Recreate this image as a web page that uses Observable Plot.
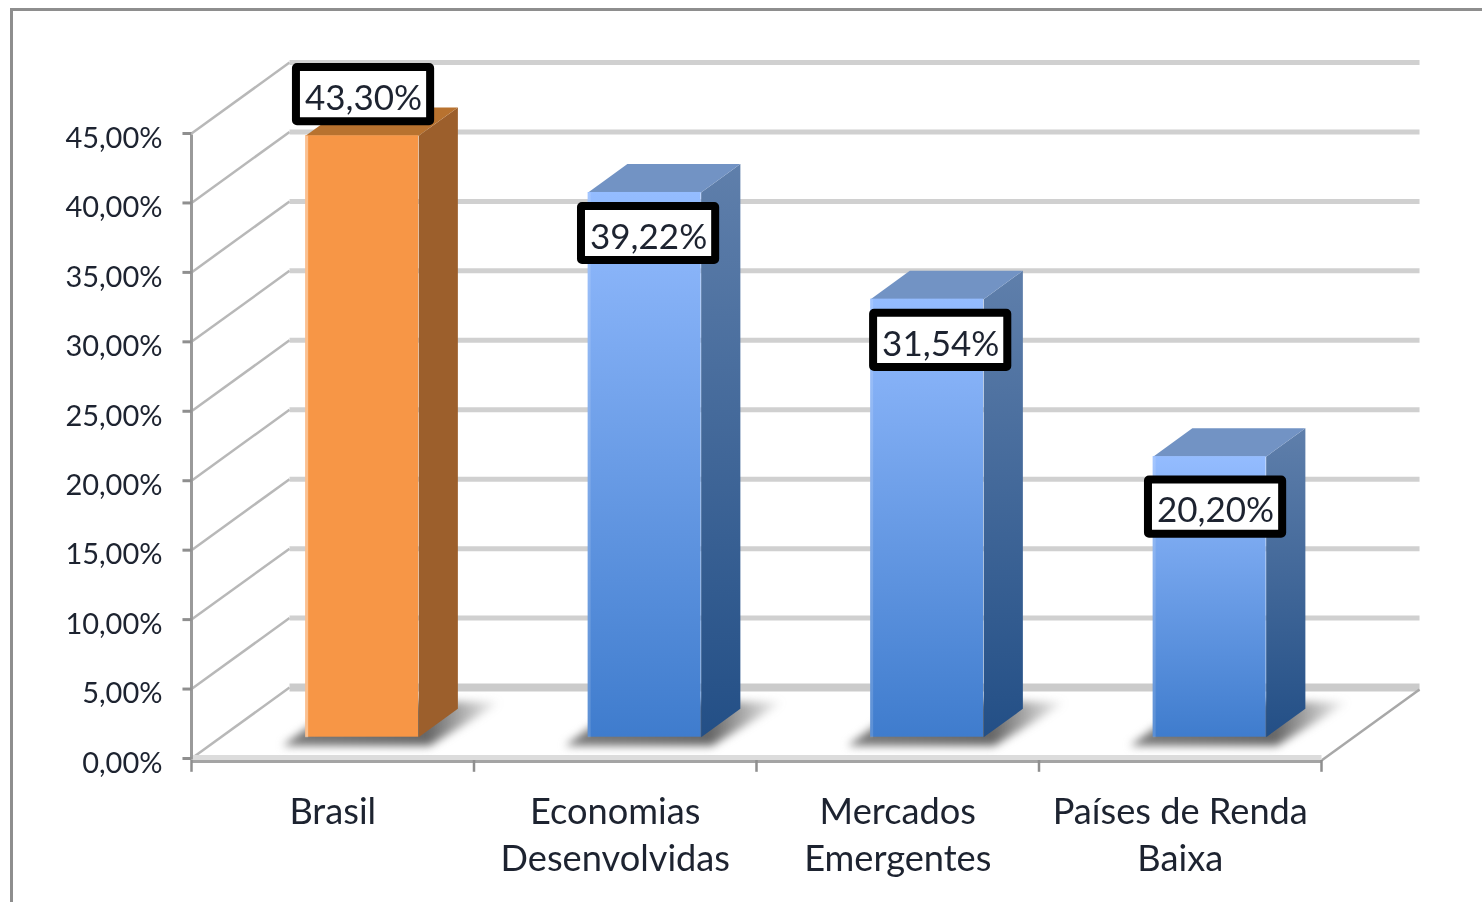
<!DOCTYPE html>
<html lang="pt">
<head>
<meta charset="utf-8">
<title>Gráfico de barras 3D</title>
<script src="https://cdn.jsdelivr.net/npm/d3@7"></script>
<script src="https://cdn.jsdelivr.net/npm/@observablehq/plot@0.6"></script>
<style>
  html, body { margin: 0; padding: 0; background: #fff; width: 1482px; height: 902px; overflow: hidden; }
  #frame { position: absolute; left: 10px; top: 8px; width: 1600px; height: 1100px; border: 3px solid #8e8e8e; box-sizing: border-box; }
  #chart { position: absolute; left: 0; top: 0; }
  #chart svg { filter: blur(0.6px); }
</style>
</head>
<body>
<div id="frame"></div>
<div id="chart"></div>
<script>
// Data
const categories = ["Brasil", "Economias\nDesenvolvidas", "Mercados\nEmergentes", "Países de Renda\nBaixa"];
const values = [43.30, 39.22, 31.54, 20.20];
const valueTicks = [0, 5, 10, 15, 20, 25, 30, 35, 40, 45];
const categoryEdges = [0, 1, 2, 3, 4];
const pct = (v) => v.toFixed(2).replace(".", ",") + "%";

// Oblique projection of the 3D box into the two scales
const depthX = 0.347;      // category units for full depth
const depthY = 5.11;       // percent units for full depth
const px = (x, d) => x + d * depthX;
const py = (v, d) => v + d * depthY;
const barL = 0.3, barR = 0.7, barD0 = 0.3, barD1 = 0.7;

const bars = values.map((v, i) => ({ i, v, kind: i === 0 ? "o" : "b" }));
const polygon = (id, corners) => corners.map(([x, v, d]) => ({ id, x: px(x, d), y: py(v, d) }));

const shadows = bars.flatMap(({ i }) => polygon(i, [
  [i + 0.26, 0, 0.18], [i + 0.78, 0, 0.18], [i + 0.82, 0, 0.8], [i + 0.26, 0, 0.8]
]));
const sideFace = (b) => polygon(b.i, [
  [b.i + barR, 0, barD0], [b.i + barR, 0, barD1], [b.i + barR, b.v, barD1], [b.i + barR, b.v, barD0]
]);
const topFace = (b) => polygon(b.i, [
  [b.i + barL, b.v, barD0], [b.i + barR, b.v, barD0], [b.i + barR, b.v, barD1], [b.i + barL, b.v, barD1]
]);
const polyMark = (data, fill, extra = {}) => Plot.line(data, { x: "x", y: "y", z: "id", fill, stroke: "none", curve: "linear-closed", ...extra });

// Label box centres (category units, percent units)
const labelCentres = [[0.609, 47.8], [1.618, 37.8], [2.652, 30.1], [3.625, 18.1]];
const boxW = 0.2375, boxH = 1.95;
const labels = values.map((v, i) => ({ text: pct(v), x: labelCentres[i][0], y: labelCentres[i][1] }));

const defs = () => {
  const d = d3.create("svg:defs");
  d.html(`
    <linearGradient id="blueFront" x1="0" y1="0" x2="0" y2="1">
      <stop offset="0" stop-color="#94bcff"/><stop offset="1" stop-color="#3f7ccd"/>
    </linearGradient>
    <linearGradient id="blueSide" x1="0" y1="0" x2="0" y2="1">
      <stop offset="0" stop-color="#5f7fab"/><stop offset="1" stop-color="#234f86"/>
    </linearGradient>
    <linearGradient id="floorShadow" x1="0" y1="0" x2="1" y2="0">
      <stop offset="0" stop-color="#7a7a7a"/><stop offset="0.66" stop-color="#666"/><stop offset="1" stop-color="#666" stop-opacity="0"/>
    </linearGradient>`);
  return d.node();
};

const textColor = "#1d2330";
const font = "Lato, Carlito, sans-serif";

const chart = Plot.plot({
  width: 1482,
  height: 902,
  marginLeft: 191,
  marginRight: 161,
  marginTop: 133,
  marginBottom: 144,
  style: { background: "transparent", fontFamily: font, overflow: "visible" },
  x: { domain: [0, 4], axis: null },
  y: { domain: [0, 45], axis: null },
  marks: [
    defs,
    // side-wall diagonals
    Plot.link(valueTicks, { x1: 0, y1: (v) => v, x2: depthX, y2: (v) => py(v, 1), stroke: "#b8b8b8", strokeWidth: 2.5 }),
    // back-wall gridlines
    Plot.link(valueTicks.filter((v) => v > 0), { x1: depthX, x2: 4 + depthX, y1: (v) => py(v, 1), y2: (v) => py(v, 1), stroke: "#d0d0d0", strokeWidth: 5 }),
    Plot.link([0], { x1: depthX, x2: 4 + depthX, y1: (v) => py(v, 1), y2: (v) => py(v, 1), stroke: "#cbcbcb", strokeWidth: 8 }),
    // floor edges
    Plot.link([0], { x1: 4, y1: (v) => v, x2: 4 + depthX, y2: (v) => py(v, 1), stroke: "#a8a8a8", strokeWidth: 2.5, dy: 2 }),
    Plot.link([0], { x1: 0, x2: 4, y1: (v) => v, y2: (v) => v, stroke: "#dcdcdc", strokeWidth: 7 }),
    Plot.link([0], { x1: 0, x2: 4, y1: (v) => v, y2: (v) => v, stroke: "#a4a4a4", strokeWidth: 3, dy: 3 }),
    // axes
    Plot.link([0], { x1: 0, x2: 0, y1: (v) => v, y2: () => 45, stroke: "#9a9a9a", strokeWidth: 3, dy: 1 }),
    Plot.link(valueTicks, { x1: () => 0, x2: () => -0.032, y1: (v) => v, y2: (v) => v, stroke: "#8f8f8f", strokeWidth: 3 }),
    Plot.axisY({ ticks: valueTicks, tickFormat: pct, tickSize: 0, tickPadding: 29, fontSize: 29, fill: textColor, label: null, dy: 5 }),
    Plot.ruleX(categoryEdges, { x: (d) => d, y1: () => 0, y2: () => -0.85, stroke: "#8f8f8f", strokeWidth: 2.5, dy: 2 }),
    // shadows
    polyMark(shadows, "url(#floorShadow)", { imageFilter: "blur(4px)" }),
    // bars
    ...bars.flatMap((b) => [
      polyMark(sideFace(b), b.kind === "o" ? "#9c5f2c" : "url(#blueSide)"),
      polyMark(topFace(b), b.kind === "o" ? "#b8722f" : "#7293c4"),
      Plot.rect([b], {
        x1: (d) => px(d.i + barL, barD0),
        x2: (d) => px(d.i + barR, barD0),
        y1: () => py(0, barD0),
        y2: (d) => py(d.v, barD0),
        fill: b.kind === "o" ? "#f79646" : "url(#blueFront)"
      }),
      Plot.link([b], {
        x1: (d) => px(d.i + barL, barD0),
        x2: (d) => px(d.i + barL, barD0),
        y1: () => py(0, barD0),
        y2: (d) => py(d.v, barD0),
        stroke: "#fff", strokeOpacity: b.kind === "o" ? 0.4 : 0.15, strokeWidth: 3, dx: 1
      })
    ]),
    // value label boxes
    Plot.rect(labels, {
      x1: (d) => d.x - boxW, x2: (d) => d.x + boxW,
      y1: (d) => d.y - boxH, y2: (d) => d.y + boxH,
      fill: "#fff", stroke: "#000", strokeWidth: 8, rx: 1
    }),
    Plot.text(labels, { x: "x", y: "y", text: "text", fontSize: 35, fill: textColor, dy: 4 }),
    // category labels
    Plot.text(categories, {
      x: (_, i) => i + 0.5, y: () => 0, text: (d) => d,
      fontSize: 36.2, fill: textColor, lineAnchor: "top", lineHeight: 1.3, dy: 32
    })
  ]
});
document.getElementById("chart").appendChild(chart);
</script>
</body>
</html>
